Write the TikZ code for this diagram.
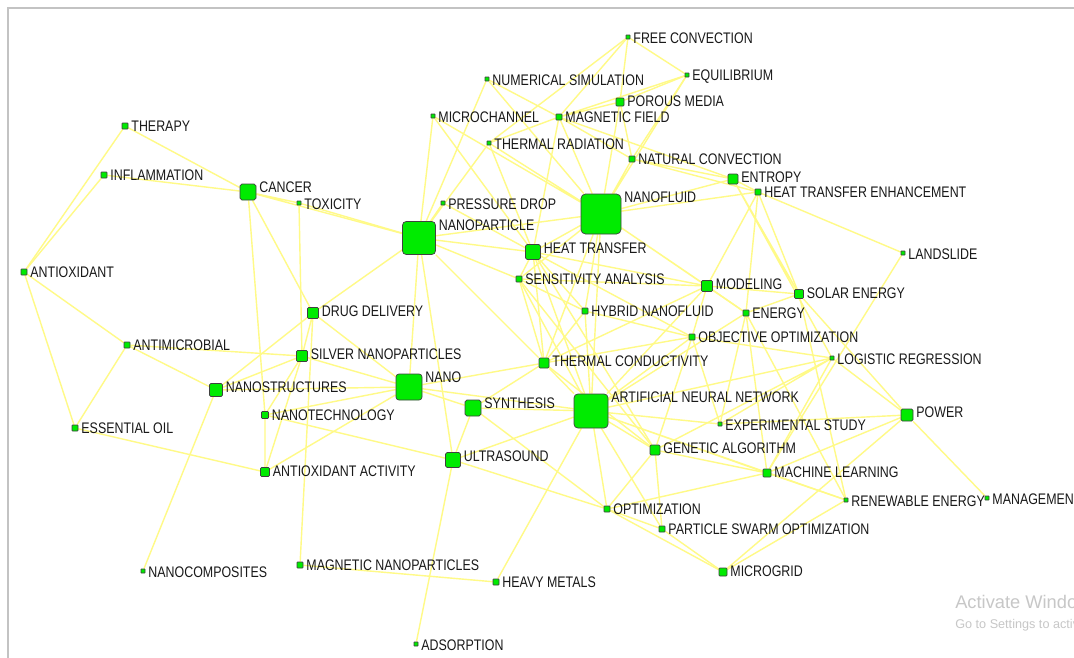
\documentclass[tikz,border=0pt]{standalone}
\usepackage{fontspec}
\setmainfont{Liberation Sans}[FakeStretch=0.81]
\newfontfamily\winfont{Liberation Sans}

\definecolor{kwgreen}{RGB}{0,235,0}
\definecolor{kwedge}{RGB}{255,250,135}
\definecolor{framegray}{RGB}{195,195,195}
\pgfdeclarelayer{bg}
\pgfsetlayers{bg,main}

\tikzset{
  kw/.style={draw=black!75, fill=kwgreen, line width=0.5pt, inner sep=0pt, minimum size=#1*0.025cm, rounded corners=#1*0.08pt},
  lbl/.style={anchor=west, inner sep=1pt, label distance=0pt, xshift=1pt, yshift=-2.6pt, text=black!90, font=\fontsize{10.9}{12}\selectfont},
  link/.style={draw=kwedge, line width=1pt}
}

\begin{document}
\begin{tikzpicture}[x=0.025cm, y=-0.025cm]
\useasboundingbox (0,0) rectangle (1074,658);
\clip (0,0) rectangle (1074,658);
\draw [framegray, line width=1.5pt] (8,658) -- (8,8) -- (1074,8);

% left cluster
\node (THY) at (125,126) [kw=6, label={[lbl]north east:THERAPY}]{};
\node (INF) at (104,175) [kw=6, label={[lbl]north east:INFLAMMATION}]{};
\node (CAN) at (248,192) [kw=16, label={[lbl]north east:CANCER}]{};
\node (TOX) at (299,203) [kw=4, label={[lbl]north east:TOXICITY}]{};
\node (AOX) at (24,272) [kw=6, label={[lbl]north east:ANTIOXIDANT}]{};
\node (AMB) at (127,345) [kw=6, label={[lbl]north east:ANTIMICROBIAL}]{};
\node (EOL) at (75,428) [kw=6, label={[lbl]north east:ESSENTIAL OIL}]{};
\node (DD) at (313,313) [kw=11, label={[lbl]north east:DRUG DELIVERY}]{};
\node (SNP) at (302,356) [kw=11, label={[lbl]north east:SILVER NANOPARTICLES}]{};
\node (NST) at (216,390) [kw=13, label={[lbl]north east:NANOSTRUCTURES}]{};
\node (NTE) at (265,415) [kw=7, label={[lbl]north east:NANOTECHNOLOGY}]{};
\node (AAC) at (265,472) [kw=9, label={[lbl]north east:ANTIOXIDANT ACTIVITY}]{};
\node (NCP) at (143,571) [kw=4, label={[lbl]north east:NANOCOMPOSITES}]{};
\node (MNP) at (300,565) [kw=6, label={[lbl]north east:MAGNETIC NANOPARTICLES}]{};

% middle
\node (NANO) at (409,387) [kw=26, label={[lbl]north east:NANO}]{};
\node (SYN) at (473,408) [kw=16, label={[lbl]north east:SYNTHESIS}]{};
\node (ULT) at (453,460) [kw=15, label={[lbl]north east:ULTRASOUND}]{};
\node (HM) at (496,582) [kw=6, label={[lbl]north east:HEAVY METALS}]{};
\node (ADS) at (416,644) [kw=4, label={[lbl]north east:ADSORPTION}]{};
\node (NP) at (419,238) [kw=33, label={[lbl]north east:NANOPARTICLE}]{};
\node (PD) at (443,203) [kw=4, label={[lbl]north east:PRESSURE DROP}]{};
\node (MCH) at (433,116) [kw=4, label={[lbl]north east:MICROCHANNEL}]{};
\node (NUM) at (487,79) [kw=4, label={[lbl]north east:NUMERICAL SIMULATION}]{};
\node (TR) at (489,143) [kw=4, label={[lbl]north east:THERMAL RADIATION}]{};
\node (FC) at (628,37) [kw=4, label={[lbl]north east:FREE CONVECTION}]{};
\node (EQ) at (687,75) [kw=4, label={[lbl]north east:EQUILIBRIUM}]{};
\node (PM) at (620,102) [kw=8, label={[lbl]north east:POROUS MEDIA}]{};
\node (MF) at (559,117) [kw=6, label={[lbl]north east:MAGNETIC FIELD}]{};
\node (NC) at (632,159) [kw=6, label={[lbl]north east:NATURAL CONVECTION}]{};
\node (NF) at (601,214) [kw=40, label={[lbl]north east:NANOFLUID}]{};
\node (HT) at (533,252) [kw=15, label={[lbl]north east:HEAT TRANSFER}]{};
\node (SA) at (519,279) [kw=6, label={[lbl]north east:SENSITIVITY ANALYSIS}]{};
\node (HN) at (585,311) [kw=6, label={[lbl]north east:HYBRID NANOFLUID}]{};
\node (TC) at (544,363) [kw=10, label={[lbl]north east:THERMAL CONDUCTIVITY}]{};
\node (ANN) at (591,411) [kw=34, label={[lbl]north east:ARTIFICIAL NEURAL NETWORK}]{};

% right cluster
\node (ENT) at (733,179) [kw=10, label={[lbl]north east:ENTROPY}]{};
\node (HTE) at (758,192) [kw=6, label={[lbl]north east:HEAT TRANSFER ENHANCEMENT}]{};
\node (LS) at (903,253) [kw=4, label={[lbl]north east:LANDSLIDE}]{};
\node (MOD) at (707,286) [kw=11, label={[lbl]north east:MODELING}]{};
\node (SE) at (799,294) [kw=9, label={[lbl]north east:SOLAR ENERGY}]{};
\node (EN) at (746,313) [kw=6, label={[lbl]north east:ENERGY}]{};
\node (OO) at (692,337) [kw=6, label={[lbl]north east:OBJECTIVE OPTIMIZATION}]{};
\node (LR) at (832,358) [kw=4, label={[lbl]north east:LOGISTIC REGRESSION}]{};
\node (PW) at (907,415) [kw=12, label={[lbl]north east:POWER}]{};
\node (EXP) at (720,424) [kw=4, label={[lbl]north east:EXPERIMENTAL STUDY}]{};
\node (GA) at (655,450) [kw=10, label={[lbl]north east:GENETIC ALGORITHM}]{};
\node (ML) at (767,473) [kw=8, label={[lbl]north east:MACHINE LEARNING}]{};
\node (OPT) at (607,509) [kw=6, label={[lbl]north east:OPTIMIZATION}]{};
\node (PSO) at (662,529) [kw=6, label={[lbl]north east:PARTICLE SWARM OPTIMIZATION}]{};
\node (MG) at (723,572) [kw=8, label={[lbl]north east:MICROGRID}]{};
\node (RE) at (846,500) [kw=4, label={[lbl]north east:RENEWABLE ENERGY}]{};
\node (MGT) at (987,498) [kw=4, label={[lbl]north east:MANAGEMENT}]{};

\begin{pgfonlayer}{bg}
\fill [white] (0,0) rectangle (1074,658);
\draw [link] (THY) -- (CAN) (THY) -- (AOX);
\draw [link] (INF) -- (CAN) (INF) -- (AOX);
\draw [link] (AOX) -- (AMB) (AOX) -- (EOL);
\draw [link] (AMB) -- (EOL) (AMB) -- (SNP) (AMB) -- (NST);
\draw [link] (EOL) -- (AAC);
\draw [link] (CAN) -- (TOX) (CAN) -- (NP) (CAN) -- (DD) (CAN) -- (NTE);
\draw [link] (TOX) -- (NP) (TOX) -- (SNP);
\draw [link] (DD) -- (NP) (DD) -- (SNP) (DD) -- (NANO) (DD) -- (MNP) (DD) -- (NST);
\draw [link] (SNP) -- (NANO) (SNP) -- (NST) (SNP) -- (NTE) (SNP) -- (AAC);
\draw [link] (NST) -- (NANO) (NST) -- (NCP);
\draw [link] (NTE) -- (AAC) (NTE) -- (ULT) (NTE) -- (NANO);
\draw [link] (AAC) -- (NANO);
\draw [link] (MNP) -- (HM);
\draw [link] (NANO) -- (NP) (NANO) -- (SYN) (NANO) -- (TC) (NANO) -- (ANN);
\draw [link] (NP) -- (ULT) (NP) -- (HT) (NP) -- (NF) (NP) -- (TC) (NP) -- (MCH) (NP) -- (NUM) (NP) -- (TR) (NP) -- (PD) (NP) -- (SA);
\draw [link] (SYN) -- (ANN) (SYN) -- (ULT) (SYN) -- (OPT) (SYN) -- (TC);
\draw [link] (ULT) -- (ADS) (ULT) -- (ANN) (ULT) -- (OPT);
\draw [link] (HM) -- (ANN);
\draw [link] (ANN) -- (NF) (ANN) -- (HT) (ANN) -- (SA) (ANN) -- (HN) (ANN) -- (TC) (ANN) -- (MOD) (ANN) -- (OO) (ANN) -- (EXP) (ANN) -- (GA) (ANN) -- (ML) (ANN) -- (OPT) (ANN) -- (PSO) (ANN) -- (LR) (ANN) -- (RE) (ANN) -- (EN);
\draw [link] (NF) -- (HT) (NF) -- (NC) (NF) -- (PM) (NF) -- (MF) (NF) -- (TR) (NF) -- (MCH) (NF) -- (NUM) (NF) -- (ENT) (NF) -- (HTE) (NF) -- (MOD) (NF) -- (SA) (NF) -- (HN) (NF) -- (TC) (NF) -- (EQ) (NF) -- (EN);
\draw [link] (HT) -- (SA) (HT) -- (HN) (HT) -- (TC) (HT) -- (MOD) (HT) -- (OO) (HT) -- (MF) (HT) -- (TR) (HT) -- (PD) (HT) -- (MCH) (HT) -- (GA);
\draw [link] (MF) -- (PM) (MF) -- (NC) (MF) -- (TR) (MF) -- (NUM) (MF) -- (EQ) (MF) -- (ENT) (MF) -- (FC);
\draw [link] (FC) -- (EQ) (FC) -- (PM) (FC) -- (TR);
\draw [link] (EQ) -- (PM) (EQ) -- (NC);
\draw [link] (PM) -- (NC);
\draw [link] (NC) -- (ENT) (NC) -- (HTE);
\draw [link] (ENT) -- (HTE) (ENT) -- (LR) (ENT) -- (SE);
\draw [link] (HTE) -- (LS) (HTE) -- (MOD) (HTE) -- (EN) (HTE) -- (SE);
\draw [link] (LS) -- (ML);
\draw [link] (MOD) -- (EN) (MOD) -- (SA) (MOD) -- (TC) (MOD) -- (OO) (MOD) -- (SE);
\draw [link] (SE) -- (PW) (SE) -- (RE) (SE) -- (EN);
\draw [link] (EN) -- (ML) (EN) -- (RE) (EN) -- (EXP);
\draw [link] (OO) -- (GA) (OO) -- (LR) (OO) -- (TC) (OO) -- (EXP);
\draw [link] (LR) -- (PW) (LR) -- (GA) (LR) -- (EXP) (LR) -- (ML);
\draw [link] (PW) -- (MGT) (PW) -- (EXP) (PW) -- (ML) (PW) -- (MG);
\draw [link] (GA) -- (ML) (GA) -- (OPT) (GA) -- (PSO) (GA) -- (SA) (GA) -- (TC);
\draw [link] (ML) -- (RE) (ML) -- (OPT);
\draw [link] (OPT) -- (PSO) (OPT) -- (MG);
\draw [link] (PSO) -- (MG);
\draw [link] (MG) -- (RE);
\draw [link] (SA) -- (TC) (SA) -- (HN);
\draw [link] (HN) -- (TC) (HN) -- (OO);
\end{pgfonlayer}

\node (WIN-1) at (955,602) [anchor=west, inner sep=0pt, text=black!22, font=\winfont\fontsize{13}{15}\selectfont]{Activate Windows};
\node (WIN-2) at (955,625) [anchor=west, inner sep=0pt, text=black!22, font=\winfont\fontsize{9}{11}\selectfont]{Go to Settings to activate Windows.};

\end{tikzpicture}
\end{document}
